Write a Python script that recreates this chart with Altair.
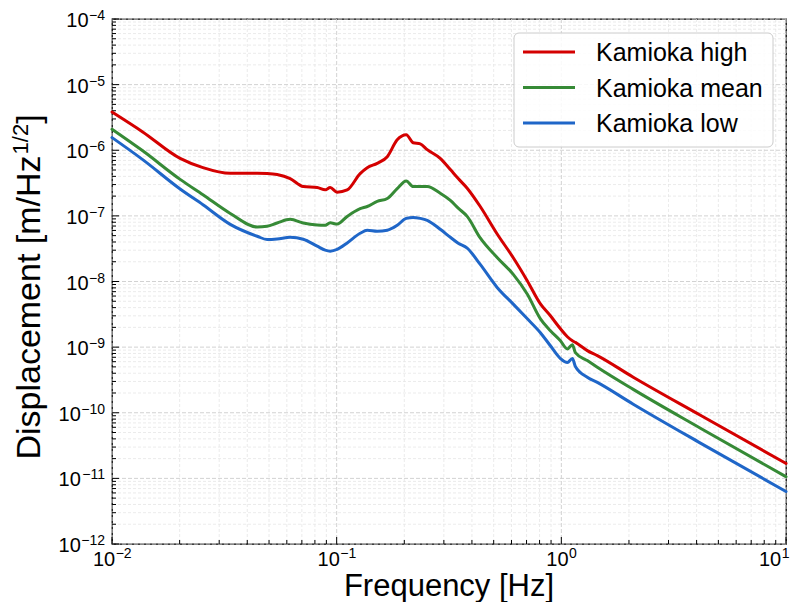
import altair as alt
import pandas as pd

# ---------------- data ----------------
freq = [0.0100, 0.0137, 0.0201, 0.0254, 0.0336, 0.0443, 0.0490, 0.0543, 0.0621, 0.0710,
        0.0819, 0.0889, 0.0936, 0.1005, 0.1114, 0.1272, 0.1368, 0.1515, 0.1680, 0.1860,
        0.2040, 0.2190, 0.2355, 0.2530, 0.2890, 0.3206, 0.3476, 0.3810, 0.4355, 0.5190,
        0.6110, 0.7060, 0.8070, 0.8940, 0.9910, 1.064, 1.120, 1.155, 1.305, 1.446,
        2.090, 4.160, 10.0]

kamioka_high = [3.83e-6, 1.905e-6, 7.52e-7, 5.43e-7, 4.45e-7, 4.45e-7, 4.41e-7, 4.26e-7, 3.70e-7, 2.80e-7,
                2.70e-7, 2.49e-7, 2.70e-7, 2.30e-7, 2.49e-7, 4.41e-7, 5.43e-7, 6.31e-7, 7.98e-7, 1.44e-6,
                1.72e-6, 1.30e-6, 1.25e-6, 1.02e-6, 7.52e-7, 5.07e-7, 3.70e-7, 2.64e-7, 1.39e-7, 5.25e-8,
                2.30e-8, 1.02e-8, 4.56e-9, 3.0e-9, 1.905e-9, 1.44e-9, 1.25e-9, 1.18e-9, 8.85e-10, 7.43e-10,
                3.48e-10, 9.16e-11, 1.69e-11]

kamioka_mean = [2.09e-6, 9.8e-7, 3.6e-7, 2.1e-7, 1.09e-7, 6.76e-8, 6.93e-8, 7.78e-8, 8.85e-8, 7.78e-8,
                7.26e-8, 7.18e-8, 7.83e-8, 7.52e-8, 9.82e-8, 1.285e-7, 1.39e-7, 1.66e-7, 1.84e-7, 2.61e-7,
                3.41e-7, 2.80e-7, 2.80e-7, 2.80e-7, 2.21e-7, 1.72e-7, 1.31e-7, 9.82e-8, 4.61e-8, 2.30e-8,
                1.285e-8, 6.40e-9, 2.70e-9, 1.78e-9, 1.25e-9, 9.40e-10, 1.09e-9, 8.26e-10, 6.24e-10, 4.94e-10,
                2.27e-10, 5.82e-11, 1.06e-11]

kamioka_low = [1.56e-6, 7.2e-7, 2.57e-7, 1.48e-7, 7.43e-8, 4.89e-8, 4.36e-8, 4.44e-8, 4.72e-8, 4.41e-8,
               3.45e-8, 3.0e-8, 2.90e-8, 3.08e-8, 3.87e-8, 5.43e-8, 6.03e-8, 5.82e-8, 6.03e-8, 7.18e-8,
               9.16e-8, 9.48e-8, 9.16e-8, 8.55e-8, 6.24e-8, 4.72e-8, 3.83e-8, 3.22e-8, 1.82e-8, 8.05e-9,
               4.52e-9, 2.70e-9, 1.66e-9, 1.05e-9, 6.70e-10, 5.82e-10, 6.70e-10, 5.07e-10, 3.48e-10, 2.90e-10,
               1.35e-10, 3.45e-11, 6.31e-12]

series_names = ["Kamioka high", "Kamioka mean", "Kamioka low"]
series_colors = ["#d40000", "#368a36", "#1f66c8"]

x_major = [0.01, 0.1, 1.0, 10.0]
x_exponents = ["\u22122", "\u22121", "0", "1"]
y_major = [1e-12, 1e-11, 1e-10, 1e-9, 1e-8, 1e-7, 1e-6, 1e-5, 1e-4]
y_exponents = ["\u221212", "\u221211", "\u221210", "\u22129", "\u22128", "\u22127", "\u22126", "\u22125", "\u22124"]

x_title = "Frequency [Hz]"
y_title_main = "Displacement [m/Hz"
y_title_sup = "1/2"
y_title_end = "]"

# ---------------- layout / style ----------------
W, H = 674, 525
FONT = "Liberation Sans"
FS_TICK, FS_EXP = 20, 14
FS_XT = 31
FS_YT, FS_YSUP = 34, 22
FS_LEG = 25

x_minor = [k * 10.0 ** e for e in (-2, -1, 0) for k in range(2, 10)]
y_minor = [k * 10.0 ** e for e in range(-12, -4) for k in range(2, 10)]

xs = alt.Scale(type="log", domain=[0.01, 10], nice=False)
ys = alt.Scale(type="log", domain=[1e-12, 1e-4], nice=False)

rows = []
for name, vals in zip(series_names, [kamioka_high, kamioka_mean, kamioka_low]):
    for f, v in zip(freq, vals):
        rows.append({"freq": f, "value": v, "series": name})
df = pd.DataFrame(rows)

one = pd.DataFrame({"a": [0]})


def xg(vals, color, width, dash):
    return alt.Chart(pd.DataFrame({"v": vals})).mark_rule(
        color=color, strokeWidth=width, strokeDash=dash).encode(
        x=alt.X("v:Q", scale=xs, axis=None))


def yg(vals, color, width, dash):
    return alt.Chart(pd.DataFrame({"v": vals})).mark_rule(
        color=color, strokeWidth=width, strokeDash=dash).encode(
        y=alt.Y("v:Q", scale=ys, axis=None))


layers = [
    xg(x_minor, "#e6e6e6", 0.8, [3, 2]),
    yg(y_minor, "#e6e6e6", 0.8, [3, 2]),
    xg(x_major, "#d2d2d2", 1, [4, 2]),
    yg(y_major, "#d2d2d2", 1, [4, 2]),
]

# inward ticks (left and bottom)
for vals, ln in ((x_major, 7), (x_minor, 4)):
    layers.append(alt.Chart(pd.DataFrame({"v": vals})).mark_rule(color="black", strokeWidth=1).encode(
        x=alt.X("v:Q", scale=xs, axis=None), y=alt.value(H), y2=alt.value(H - ln)))
for vals, ln in ((y_major, 7), (y_minor, 4)):
    layers.append(alt.Chart(pd.DataFrame({"v": vals})).mark_rule(color="black", strokeWidth=1).encode(
        y=alt.Y("v:Q", scale=ys, axis=None), x=alt.value(0), x2=alt.value(ln)))

# data lines
layers.append(alt.Chart(df).mark_line(strokeWidth=3, strokeJoin="round", strokeCap="round",
                                      interpolate="monotone").encode(
    x=alt.X("freq:Q", scale=xs, axis=None),
    y=alt.Y("value:Q", scale=ys, axis=None),
    color=alt.Color("series:N", scale=alt.Scale(domain=series_names, range=series_colors), legend=None),
    order=alt.Order("freq:Q"),
))

# x tick labels "10" + superscript exponent
W10 = 1.112 * FS_TICK
for i, (v, ex) in enumerate(zip(x_major, x_exponents)):
    wexp = (0.584 if ex.startswith("\u2212") else 0) * FS_EXP + 0.556 * FS_EXP * len(ex.lstrip("\u2212"))
    d = pd.DataFrame({"v": [v], "exp": [ex]})
    shift = (W10 - wexp) / 2
    if i == len(x_major) - 1:
        shift = min(shift, 3 - wexp)  # keep the last label inside the page
    layers.append(alt.Chart(d).mark_text(text="10", align="right", baseline="alphabetic", dx=shift,
                                         fontSize=FS_TICK, font=FONT, color="black").encode(
        x=alt.X("v:Q", scale=xs, axis=None), y=alt.value(H + 22)))
    layers.append(alt.Chart(d).mark_text(align="left", baseline="alphabetic", dx=shift + 0.5,
                                         fontSize=FS_EXP, font=FONT, color="black").encode(
        x=alt.X("v:Q", scale=xs, axis=None), y=alt.value(H + 14), text="exp:N"))

# y tick labels
for v, ex in zip(y_major, y_exponents):
    wexp = 0.584 * FS_EXP + 0.556 * FS_EXP * len(ex.lstrip("\u2212"))
    d = pd.DataFrame({"v": [v], "exp": [ex]})
    layers.append(alt.Chart(d).mark_text(text="10", align="right", baseline="alphabetic", dx=-7 - wexp - 0.5,
                                         dy=8, fontSize=FS_TICK, font=FONT, color="black").encode(
        x=alt.value(0), y=alt.Y("v:Q", scale=ys, axis=None)))
    layers.append(alt.Chart(d).mark_text(align="right", baseline="alphabetic", dx=-7, dy=1,
                                         fontSize=FS_EXP, font=FONT, color="black").encode(
        x=alt.value(0), y=alt.Y("v:Q", scale=ys, axis=None), text="exp:N"))

# x title
layers.append(alt.Chart(one).mark_text(text=x_title, align="center", baseline="alphabetic",
                                       fontSize=FS_XT, font=FONT, color="black").encode(
    x=alt.value(W / 2), y=alt.value(H + 52)))

# y title (rotated, with superscript)
L1 = 8.946 * FS_YT
L2 = 1.39 * FS_YSUP
L3 = 0.278 * FS_YT
ybot = H / 2 + 6 + (L1 + L2 + L3) / 2
y1 = ybot - L1
XB = -72
layers.append(alt.Chart(one).mark_text(text=y_title_main, align="left", baseline="alphabetic", angle=270,
                                       fontSize=FS_YT, font=FONT, color="black").encode(
    x=alt.value(XB), y=alt.value(ybot)))
layers.append(alt.Chart(one).mark_text(text=y_title_sup, align="left", baseline="alphabetic", angle=270,
                                       fontSize=FS_YSUP, font=FONT, color="black").encode(
    x=alt.value(XB - 12), y=alt.value(y1 - 1)))
layers.append(alt.Chart(one).mark_text(text=y_title_end, align="left", baseline="alphabetic", angle=270,
                                       fontSize=FS_YT, font=FONT, color="black").encode(
    x=alt.value(XB), y=alt.value(y1 - 1 - L2)))

# legend
LX0, LX1, LY0, LY1 = 402, 661, 14, 128
layers.append(alt.Chart(one).mark_rect(fill="white", fillOpacity=0.85, stroke="#cccccc", strokeWidth=1,
                                       cornerRadius=5).encode(
    x=alt.value(LX0), x2=alt.value(LX1), y=alt.value(LY0), y2=alt.value(LY1)))
for i, (name, col) in enumerate(zip(series_names, series_colors)):
    yy = 33 + 35.5 * i
    layers.append(alt.Chart(one).mark_rule(color=col, strokeWidth=3).encode(
        x=alt.value(411), x2=alt.value(463), y=alt.value(yy)))
    layers.append(alt.Chart(one).mark_text(text=name, align="left", baseline="middle",
                                           fontSize=FS_LEG, font=FONT, color="black").encode(
        x=alt.value(484), y=alt.value(yy + 1)))

chart = alt.layer(*layers).properties(
    width=W, height=H,
    autosize=alt.AutoSizeParams(type="none"),
    padding={"left": 104, "top": 11, "right": 5, "bottom": 58},
    background="white",
).configure_view(stroke="black", strokeWidth=1.3)

chart.save("out.html", embed_options={"renderer": "svg", "actions": False})
